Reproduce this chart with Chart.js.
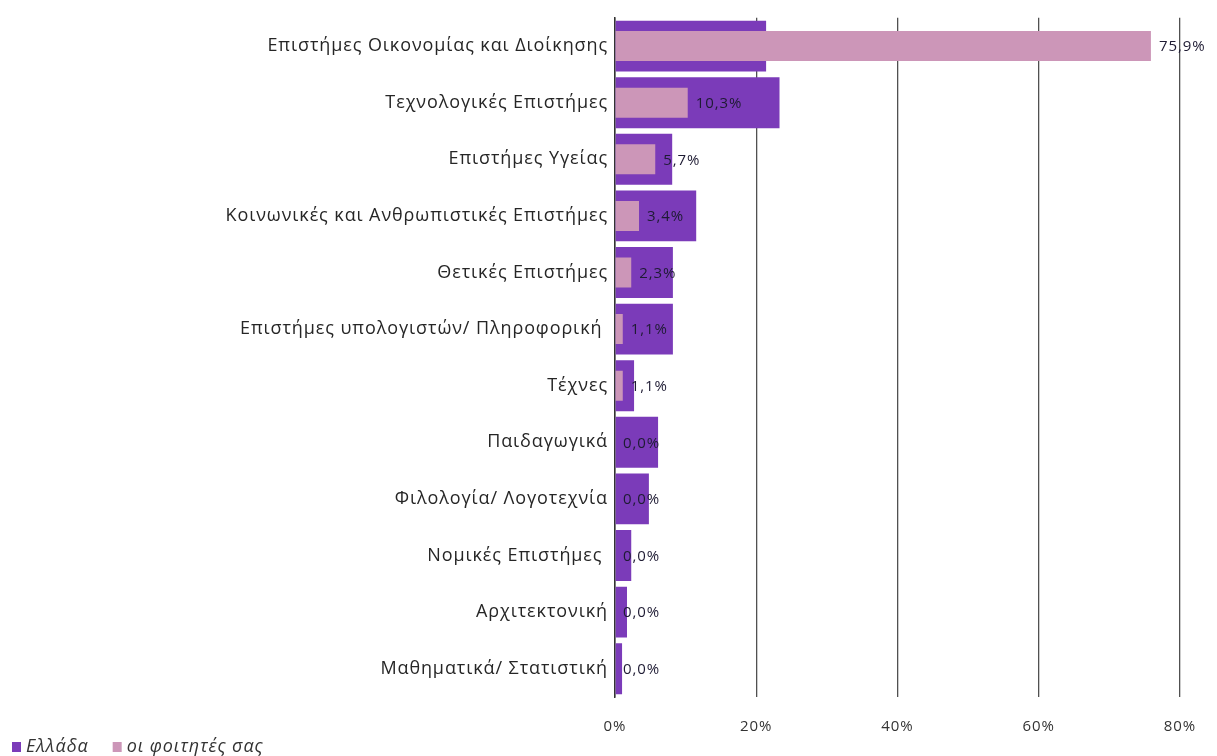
<!DOCTYPE html>
<html>
<head>
<meta charset="utf-8">
<script src="https://cdn.jsdelivr.net/npm/chart.js@4.4.0/dist/chart.umd.min.js"></script>
<style>
  html, body { margin: 0; padding: 0; background: #fff; }
  #wrap { width: 1217px; height: 756px; }
</style>
</head>
<body>
<div id="wrap"><canvas id="fieldChart" width="1217" height="756"></canvas></div>
<script>
var categories = [
    "Επιστήμες Οικονομίας και Διοίκησης",
    "Τεχνολογικές Επιστήμες",
    "Επιστήμες Υγείας",
    "Κοινωνικές και Ανθρωπιστικές Επιστήμες",
    "Θετικές Επιστήμες",
    "Επιστήμες υπολογιστών/ Πληροφορική ",
    "Τέχνες",
    "Παιδαγωγικά",
    "Φιλολογία/ Λογοτεχνία",
    "Νομικές Επιστήμες ",
    "Αρχιτεκτονική",
    "Μαθηματικά/ Στατιστική"
];
var greece = [21.4, 23.3, 8.1, 11.5, 8.2, 8.2, 2.7, 6.1, 4.8, 2.3, 1.7, 1.0];
var students = [75.9, 10.3, 5.7, 3.4, 2.3, 1.1, 1.1, 0.0, 0.0, 0.0, 0.0, 0.0];
var xTicks = [0, 20, 40, 60, 80];

var fontFamily = "'Open Sans', 'Noto Sans', sans-serif";
var letterSp = '0.9px';

// slightly wider letters, like the original (canvas resize clears it, so set it again)
var spacing = {
    id: 'spacing',
    beforeUpdate: function (chart) { chart.ctx.letterSpacing = letterSp; },
    beforeLayout: function (chart) { chart.ctx.letterSpacing = letterSp; },
    beforeDraw: function (chart) { chart.ctx.letterSpacing = letterSp; }
};

// value labels next to the pink bars + legend in the bottom left corner
var valueLabels = {
    id: 'valueLabels',
    afterDatasetsDraw: function (chart) {
        var ctx = chart.ctx;
        var meta = chart.getDatasetMeta(1);
        ctx.save();
        ctx.font = "15px " + fontFamily;
        ctx.fillStyle = "#1e1b33";
        ctx.textAlign = "left";
        ctx.textBaseline = "middle";
        meta.data.forEach(function (bar, i) {
            var txt = students[i].toFixed(1).replace('.', ',') + '%';
            ctx.fillText(txt, bar.x + 8, bar.y + 1);
        });
        ctx.restore();
    },
    afterDraw: function (chart) {
        var ctx = chart.ctx;
        var x = 12, y = 747;
        ctx.save();
        ctx.font = "italic 18px " + fontFamily;
        ctx.textBaseline = "middle";
        ctx.textAlign = "left";
        chart.data.datasets.forEach(function (ds) {
            ctx.fillStyle = ds.backgroundColor;
            ctx.fillRect(x, y - 5, 9, 10);
            ctx.fillStyle = "#333";
            ctx.fillText(ds.label, x + 14, y);
            x += 14 + ctx.measureText(ds.label).width + 24;
        });
        ctx.restore();
    }
};

var fieldChart = new Chart(document.getElementById("fieldChart"), {
    type: 'bar',
    data: {
        labels: categories,
        datasets: [
            {
                label: "Ελλάδα",
                backgroundColor: "#7b3bb9",
                data: greece,
                grouped: false,
                order: 2,
                barPercentage: 0.9,
                categoryPercentage: 1
            },
            {
                label: "οι φοιτητές σας",
                backgroundColor: "#cc96b8",
                data: students,
                grouped: false,
                order: 1,
                barPercentage: 0.53,
                categoryPercentage: 1
            }
        ]
    },
    options: {
        indexAxis: 'y',
        responsive: false,
        animation: false,
        layout: {padding: {left: 0, right: 37, top: 15, bottom: 23}},
        plugins: {
            legend: {display: false},
            tooltip: {enabled: false}
        },
        scales: {
            x: {
                min: 0,
                max: 80,
                afterBuildTicks: function (scale) {
                    scale.ticks = xTicks.map(function (v) { return {value: v}; });
                },
                afterFit: function (scale) { scale.height = 36; },
                ticks: {
                    callback: function (v) { return v + '%'; },
                    color: "#333",
                    padding: 21,
                    font: {family: fontFamily, size: 15}
                },
                grid: {color: "#505050", lineWidth: 1.3, drawTicks: false},
                border: {display: false}
            },
            y: {
                afterFit: function (scale) { scale.width = 615; },
                ticks: {
                    color: "#262626",
                    padding: 7,
                    font: {family: fontFamily, size: 18}
                },
                grid: {display: false, drawTicks: false},
                border: {display: true, color: "#333", width: 1.5}
            }
        }
    },
    plugins: [spacing, valueLabels]
});
</script>
</body>
</html>
